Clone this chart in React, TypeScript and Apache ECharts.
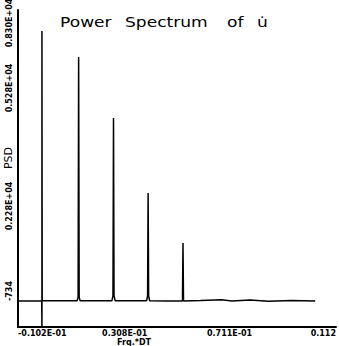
import React, { useEffect, useRef } from "react";
import * as echarts from "echarts";

// Spectrum samples (frequency*DT, PSD)
const freq = [
  -0.0102, -0.0040, -0.0011, -0.0010, -0.0010, -0.0009, 0.0060,
  0.0125, 0.0129, 0.0131, 0.0133, 0.0137, 0.0200,
  0.0259, 0.0263, 0.0265, 0.0267, 0.0271, 0.0330,
  0.0392, 0.0396, 0.0398, 0.0400, 0.0404, 0.0470,
  0.0530, 0.0532, 0.0534, 0.0600, 0.0680, 0.0720, 0.0790, 0.0860, 0.0950, 0.1040,
];
const psd = [
  10, 10, 10, -734, 7702, 20, 15,
  15, 110, 6961, 110, 15, 15,
  15, 160, 5222, 160, 15, 15,
  15, 150, 3085, 150, 15, 10,
  10, 1660, 10, 20, 40, 10, 35, 0, 20, 10,
];

const xTickValues = [-0.0102, 0.0308, 0.0711, 0.112];
const xTickLabels = ["-0.102E-01", "0.308E-01", "0.711E-01", "0.112"];
const yTickLabels = ["0.830E+04", "0.528E+04", "0.228E+04", "-734"];
const yMin = -734;
const yMax = 8300;
const titleWords = ["Power", "Spectrum", "of", "u\u0307"];
const xName = "Frq.*DT";
const yName = "PSD";

// layout (pixel positions for the annotation texts)
const yLabelCenters = [23, 88, 206, 291];
const titleX = [60, 125, 227, 257];

export default function App() {
  const ref = useRef<HTMLDivElement>(null);
  useEffect(() => {
    if (!ref.current) return;
    const chart = echarts.init(ref.current, null, { renderer: "svg" });
    const font = "DejaVu Sans";
    const graphics: any[] = [];
    titleWords.forEach((w, i) => {
      graphics.push({
        type: "text",
        x: titleX[i],
        y: 23,
        scaleX: 1.22,
        style: {
          text: w,
          fill: "#000",
          font: `14px "${font}"`,
          textVerticalAlign: "middle",
          textAlign: "left",
        },
      });
    });
    yTickLabels.forEach((t, i) => {
      graphics.push({
        type: "text",
        x: 9,
        y: yLabelCenters[i],
        rotation: Math.PI / 2,
        style: {
          text: t,
          fill: "#000",
          font: `bold 8px "${font}"`,
          textAlign: "center",
          textVerticalAlign: "middle",
        },
      });
    });
    graphics.push({
      type: "text",
      x: 8,
      y: 158,
      rotation: Math.PI / 2,
      style: {
        text: yName,
        fill: "#000",
        font: `11px "${font}"`,
        textAlign: "center",
        textVerticalAlign: "middle",
      },
    });
    graphics.push({
      type: "text",
      x: 134,
      y: 342,
      style: {
        text: xName,
        fill: "#000",
        font: `bold 8px "${font}"`,
        textAlign: "center",
        textVerticalAlign: "middle",
      },
    });

    chart.setOption({
      animation: false,
      backgroundColor: "#fff",
      grid: { left: 18, top: 10, right: 1, bottom: 19 },
      xAxis: {
        type: "value",
        min: xTickValues[0],
        max: xTickValues[xTickValues.length - 1],
        axisLine: { show: true, onZero: false, lineStyle: { color: "#000", width: 2 } },
        axisTick: { show: false },
        splitLine: { show: false },
        axisLabel: {
          customValues: xTickValues,
          margin: 2,
          color: "#000",
          fontFamily: font,
          fontWeight: "bold",
          fontSize: 8,
          alignMinLabel: "left",
          alignMaxLabel: "right",
          showMinLabel: true,
          showMaxLabel: true,
          formatter: (v: number) => {
            const idx = xTickValues.findIndex((t) => Math.abs(t - v) < 1e-9);
            return idx >= 0 ? xTickLabels[idx] : "";
          },
        },
      },
      yAxis: {
        type: "value",
        min: yMin,
        max: yMax,
        axisLine: { show: true, onZero: false, lineStyle: { color: "#000", width: 2 } },
        axisTick: { show: false },
        axisLabel: { show: false },
        splitLine: { show: false },
      },
      graphic: graphics,
      series: [
        {
          type: "line",
          data: freq.map((f, i) => [f, psd[i]]),
          showSymbol: false,
          lineStyle: { color: "#000", width: 1.5 },
          silent: true,
        },
      ],
    });
    return () => chart.dispose();
  }, []);
  return (
    <div
      ref={ref}
      style={{ position: "fixed", left: 0, top: 0, width: 339, height: 346, background: "#fff" }}
    />
  );
}
